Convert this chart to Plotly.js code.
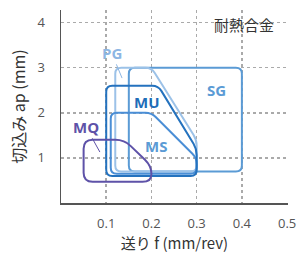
<!DOCTYPE html>
<html><head><meta charset="utf-8">
<script src="https://cdn.plot.ly/plotly-3.0.1.min.js"></script>
<style>html,body{margin:0;padding:0;background:#fff}#c{width:301px;height:253px}</style>
</head><body><div id="c"></div>
<script>
// ---- data ----
const regionNames = ['SG', 'PG', 'MS', 'MU', 'MQ'];
const sgX = [0.15, 0.15, 0.40, 0.40];
const sgY = [0.70, 3.00, 3.00, 0.70];
const pgX = [0.12, 0.12, 0.20, 0.30, 0.30];
const pgY = [0.70, 3.00, 3.00, 1.40, 0.70];
const msX = [0.11, 0.11, 0.20, 0.30, 0.30];
const msY = [0.65, 2.00, 2.00, 1.00, 0.65];
const muX = [0.10, 0.10, 0.215, 0.30, 0.30];
const muY = [0.60, 2.60, 2.60, 1.20, 0.60];
const mqX = [0.05, 0.05, 0.14, 0.20, 0.20];
const mqY = [0.47, 1.40, 1.40, 0.82, 0.47];
const labelX = [0.344, 0.112, 0.211, 0.190, 0.055];
const labelY = [2.50, 3.33, 1.27, 2.24, 1.69];
const xTicks = [0.1, 0.2, 0.3, 0.4, 0.5];
const yTicks = [1, 2, 3, 4];
const xTitle = '送り f (mm/rev)';
const yTitle = '切込み ap (mm)';
const material = '耐熱合金';

// ---- style ----
const W = 301, H = 253, M = {l: 61, r: 13, t: 10, b: 50};
const XR = [0, 0.502], YR = [0, 4.28];
const colors = {SG: '#5B9BD5', PG: '#9CC2E8', MS: '#4A8ED6', MU: '#2472BE', MQ: '#5E52A8'};
const labelColors = {SG: '#5B9BD5', PG: '#8DB6E3', MS: '#5B9BD5', MU: '#1F6DB8', MQ: '#5E52A8'};
const radius = {SG: 6, PG: 6, MS: 6, MU: 6, MQ: 9};
const polys = {SG: [sgX, sgY], PG: [pgX, pgY], MS: [msX, msY], MU: [muX, muY], MQ: [mqX, mqY]};

const pxX = (W - M.l - M.r) / (XR[1] - XR[0]);
const pxY = (H - M.t - M.b) / (YR[1] - YR[0]);

function roundedPath(xs, ys, r) {
  const n = xs.length;
  const pts = [];
  for (let i = 0; i < n; i++) {
    const pi = (i - 1 + n) % n, ni = (i + 1) % n;
    const vx = xs[i], vy = ys[i];
    function toward(ax, ay) {
      const dx = (ax - vx) * pxX, dy = (ay - vy) * pxY;
      const len = Math.hypot(dx, dy);
      const t = Math.min(r, len / 2) / len;
      return [vx + (ax - vx) * t, vy + (ay - vy) * t];
    }
    pts.push({inn: toward(xs[pi], ys[pi]), v: [vx, vy], out: toward(xs[ni], ys[ni])});
  }
  let d = 'M' + pts[0].out[0] + ',' + pts[0].out[1];
  for (let k = 1; k <= n; k++) {
    const p = pts[k % n];
    d += ' L' + p.inn[0] + ',' + p.inn[1] + ' Q' + p.v[0] + ',' + p.v[1] + ' ' + p.out[0] + ',' + p.out[1];
  }
  return d + ' Z';
}

const shapes = regionNames.map(nm => ({
  type: 'path', xref: 'x', yref: 'y', layer: 'above',
  path: roundedPath(polys[nm][0], polys[nm][1], radius[nm]),
  line: {color: colors[nm], width: 2}
}));

const annotations = regionNames.map((nm, i) => ({
  text: '<b>' + nm + '</b>', x: labelX[i], y: labelY[i], xref: 'x', yref: 'y',
  showarrow: false, font: {family: 'Open Sans, sans-serif', size: 15, color: labelColors[nm]}
}));
// pointer lines for PG and MQ
Object.assign(annotations[1], {showarrow: true, arrowhead: 0, arrowwidth: 1,
  arrowcolor: labelColors.PG, x: 0.135, y: 2.77, ax: labelX[1], ay: labelY[1], axref: 'x', ayref: 'y'});
Object.assign(annotations[4], {showarrow: true, arrowhead: 0, arrowwidth: 1,
  arrowcolor: labelColors.MQ, x: 0.086, y: 1.13, ax: labelX[4], ay: labelY[4], axref: 'x', ayref: 'y'});
annotations.push({text: material, x: 0.405, y: 3.95, xref: 'x', yref: 'y', showarrow: false,
  bgcolor: 'rgba(255,255,255,0)',
  font: {family: 'Noto Sans CJK JP', size: 15, color: '#333'}});

const tickFont = {family: 'Open Sans, sans-serif', size: 13, color: '#555'};
const titleFont = {family: 'Noto Sans CJK JP', size: 15, color: '#333'};

const data = [
  {x: [], y: [], type: 'scatter', mode: 'lines', showlegend: false, hoverinfo: 'skip'},
  {x: [], y: [], type: 'scatter', mode: 'lines', showlegend: false, hoverinfo: 'skip', xaxis: 'x2'}
];

const layout = {
  width: W, height: H, margin: M, showlegend: false,
  paper_bgcolor: '#fff', plot_bgcolor: '#fff',
  xaxis: {range: XR, tickvals: xTicks, ticktext: xTicks.map(String), showgrid: false, zeroline: false,
    showline: true, linecolor: '#555', linewidth: 1.5, ticks: 'outside', ticklen: 8, tickcolor: 'rgba(0,0,0,0)',
    tickfont: tickFont, fixedrange: true,
    title: {text: xTitle, font: titleFont, standoff: 6}},
  xaxis2: {range: XR, overlaying: 'x', tickvals: xTicks.slice(0, 4), showticklabels: false, showgrid: true,
    gridcolor: '#aaa', griddash: 'dot', gridwidth: 1.5, zeroline: false, showline: false, ticks: ''},
  yaxis: {range: YR, tickvals: yTicks, showgrid: true, gridcolor: '#aaa', griddash: 'dot', gridwidth: 1.5,
    zeroline: false, showline: true, linecolor: '#555', linewidth: 1.5, ticks: 'outside', ticklen: 12,
    tickcolor: 'rgba(0,0,0,0)', tickfont: tickFont, fixedrange: true,
    title: {text: yTitle, font: {family: 'Noto Sans CJK JP', size: 16, color: '#333'}, standoff: 8}},
  shapes: shapes, annotations: annotations
};

Plotly.newPlot('c', data, layout, {staticPlot: true, displayModeBar: false});
</script></body></html>
